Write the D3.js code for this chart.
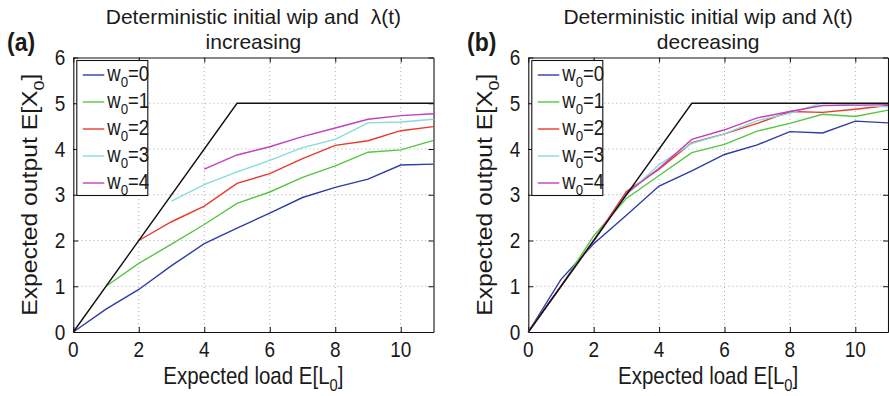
<!DOCTYPE html>
<html>
<head>
<meta charset="utf-8">
<script src="https://cdnjs.cloudflare.com/ajax/libs/d3/7.8.5/d3.min.js"></script>
<style>
    body { margin: 0; background: #fff; }
    svg text { font-family: "Liberation Sans", Arial, Helvetica, sans-serif; fill: #1a1a1a; }
</style>
</head>
<body>
<svg id="chart" width="889" height="396"></svg>
<script>
"use strict";

// Data
const loads = [0, 1, 2, 3, 4, 5, 6, 7, 8, 9, 10, 11];
const wipLabels = ['0', '1', '2', '3', '4'];
const capacityX = [0, 5, 11];
const capacityY = [0, 5, 5];
const xTicks = [0, 2, 4, 6, 8, 10];
const yTicks = [0, 1, 2, 3, 4, 5, 6];

// (a) lambda(t) increasing, curve w0=k starts at load k
const incStart = [0, 1, 2, 3, 4];
const incW0 = [0, 0.5, 0.93, 1.45, 1.93, 2.27, 2.6, 2.94, 3.16, 3.34, 3.65, 3.67];
const incW1 = [1, 1.5, 1.92, 2.35, 2.81, 3.06, 3.38, 3.63, 3.93, 3.98, 4.19];
const incW2 = [2, 2.41, 2.75, 3.25, 3.46, 3.79, 4.08, 4.18, 4.4, 4.49];
const incW3 = [2.86, 3.22, 3.5, 3.75, 4.03, 4.21, 4.57, 4.59, 4.65];
const incW4 = [3.56, 3.87, 4.05, 4.27, 4.46, 4.65, 4.73, 4.77];

// (b) lambda(t) decreasing, all curves start at 0
const decStart = [0, 0, 0, 0, 0];
const decW0 = [0, 1.15, 1.93, 2.55, 3.19, 3.52, 3.88, 4.09, 4.38, 4.35, 4.61, 4.57];
const decW1 = [0, 1.0, 2.1, 2.92, 3.42, 3.92, 4.1, 4.39, 4.56, 4.76, 4.71, 4.85];
const decW2 = [0, 1.0, 2.0, 3.07, 3.56, 4.14, 4.33, 4.56, 4.82, 4.8, 4.87, 4.95];
const decW3 = [0, 1.0, 2.0, 3.0, 3.66, 4.12, 4.33, 4.62, 4.78, 5.01, 4.96, 4.92];
const decW4 = [0, 1.0, 1.98, 3.03, 3.58, 4.21, 4.42, 4.68, 4.82, 4.95, 4.96, 4.97];

const colors = ['#2c3da6', '#55c640', '#e8392b', '#86dcd8', '#c23fc0'];

const SY = 1.15; // the figure's glyphs are a bit taller than they are wide

const svg = d3.select('#chart');

function addText(g, x, y, size, anchor, rotated, sy) {
    let k = sy || SY;
    let tf = `translate(${x},${y})` + (rotated ? ` rotate(-90) scale(${k},1)` : ` scale(1,${k})`);
    return g.append('text')
        .attr('transform', tf)
        .attr('text-anchor', anchor)
        .style('font-size', size + 'px')
        .style('white-space', 'pre');
}

// text with a subscript: before, sub, after
function subText(t, before, sub, after, size) {
    let shift = size * 0.3;
    t.append('tspan').text(before);
    t.append('tspan').style('font-size', (size * 0.72) + 'px').attr('dy', shift).text(sub);
    if (after) t.append('tspan').attr('dy', -shift).text(after);
}

function drawPanel(p) {
    const g = svg.append('g');
    const x = d3.scaleLinear().domain([0, 11]).range([p.left, p.right]);
    const y = d3.scaleLinear().domain([0, 6]).range([332, 57.5]);

    // grid
    g.append('g').selectAll('line')
        .data(xTicks.filter(d => d > 0))
        .join('line')
        .attr('x1', d => x(d)).attr('x2', d => x(d))
        .attr('y1', y(0)).attr('y2', y(6))
        .attr('stroke', '#9a9a9a').attr('stroke-width', 0.8)
        .attr('stroke-dasharray', '1,3');
    g.append('g').selectAll('line')
        .data(yTicks.filter(d => d > 0 && d < 6))
        .join('line')
        .attr('x1', x(0)).attr('x2', x(11))
        .attr('y1', d => y(d)).attr('y2', d => y(d))
        .attr('stroke', '#9a9a9a').attr('stroke-width', 0.8)
        .attr('stroke-dasharray', '1,3');

    // axes, ticks pointing inwards
    const ax = [
        g.append('g').attr('transform', `translate(0,${y(0)})`).call(d3.axisBottom(x).tickValues(xTicks).tickSize(-5).tickSizeOuter(0)),
        g.append('g').attr('transform', `translate(0,${y(6)})`).call(d3.axisTop(x).tickValues(xTicks).tickSize(-5).tickSizeOuter(0)),
        g.append('g').attr('transform', `translate(${x(0)},0)`).call(d3.axisLeft(y).tickValues(yTicks).tickSize(-5).tickSizeOuter(0)),
        g.append('g').attr('transform', `translate(${x(11)},0)`).call(d3.axisRight(y).tickValues(yTicks).tickSize(-5).tickSizeOuter(0))
    ];
    ax.forEach(a => {
        a.selectAll('text').remove();
        a.select('.domain').attr('stroke', '#111').attr('stroke-width', 1.1);
        a.selectAll('.tick line').attr('stroke', '#111');
    });

    // tick labels
    xTicks.forEach(v => addText(g, x(v), 357, 19, 'middle').text(v));
    yTicks.forEach(v => addText(g, x(0) - 8, y(v) + 7.6, 19, 'end').text(v));

    // curves
    const line = d3.line().x(d => x(d[0])).y(d => y(d[1]));
    p.series.forEach((s, i) => {
        let pts = s.map((v, j) => [loads[p.starts[i] + j], v]);
        g.append('path').datum(pts)
            .attr('d', line)
            .attr('fill', 'none')
            .attr('stroke', colors[i])
            .attr('stroke-width', 1.4);
    });
    g.append('path').datum(capacityX.map((v, j) => [v, capacityY[j]]))
        .attr('d', line)
        .attr('fill', 'none')
        .attr('stroke', '#111')
        .attr('stroke-width', 1.4);

    // legend
    const lg = g.append('g');
    lg.append('rect')
        .attr('x', p.left + 3.5).attr('y', 60.5)
        .attr('width', 71).attr('height', 135)
        .attr('fill', '#fff').attr('stroke', '#111').attr('stroke-width', 1.1);
    wipLabels.forEach((w, i) => {
        let ly = 75 + i * 27;
        lg.append('line')
            .attr('x1', p.left + 9.5).attr('x2', p.left + 31)
            .attr('y1', ly).attr('y2', ly)
            .attr('stroke', colors[i]).attr('stroke-width', 1.4);
        let t = addText(lg, p.left + 34, ly + 5.5, 18.5, 'start');
        subText(t, 'w', '0', '=' + w, 18.5);
    });

    // titles and labels
    let cx = (p.left + p.right) / 2;
    addText(g, cx, 24, 21, 'middle', false, 1).text(p.title1);
    addText(g, cx, 49, 21, 'middle', false, 1).text(p.title2);
    addText(g, p.tag_x, 51, 23, 'start').style('font-weight', 'bold').text(p.tag);
    subText(addText(g, cx, 384, 20.5, 'middle'), 'Expected load E[L', '0', ']', 20.5);
    subText(addText(g, p.left - 36, (y(0) + y(6)) / 2, 21.5, 'middle', true), 'Expected output E[X', '0', ']', 21.5);
}

drawPanel({
    left: 73.3, right: 433.5, tag: '(a)', tag_x: 7,
    title1: 'Deterministic initial wip and  \u03bb(t)', title2: 'increasing',
    series: [incW0, incW1, incW2, incW3, incW4], starts: incStart
});
drawPanel({
    left: 528.3, right: 888, tag: '(b)', tag_x: 467,
    title1: 'Deterministic initial wip and \u03bb(t)', title2: 'decreasing',
    series: [decW0, decW1, decW2, decW3, decW4], starts: decStart
});
</script>
</body>
</html>
